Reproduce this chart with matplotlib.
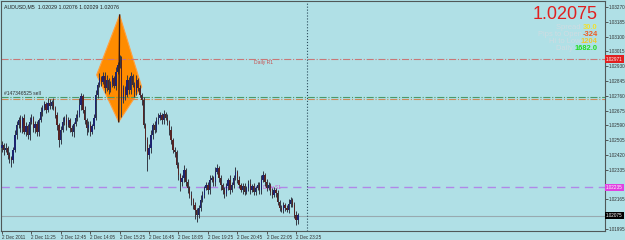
import matplotlib
matplotlib.use('Agg')
import matplotlib.pyplot as plt
from matplotlib.patches import Polygon
import matplotlib.transforms as mtransforms

plt.rcParams['font.family'] = ['Liberation Sans', 'DejaVu Sans']

# AUDUSD M5 свечи (цены закрытия), открытие = предыдущее закрытие
first_open = 1.02460
closes = [
    1.02478, 1.02449, 1.02461, 1.02420, 1.02403, 1.02392,
    1.02449, 1.02535, 1.02593,
    1.02621, 1.02575, 1.02633, 1.02552, 1.02587, 1.02535, 1.02610, 1.02633, 1.02575, 1.02598, 1.02552, 1.02621,
    1.02667, 1.02690, 1.02713, 1.02679, 1.02719, 1.02702, 1.02725, 1.02690,
    1.02650, 1.02593, 1.02506, 1.02564,
    1.02610, 1.02633, 1.02593, 1.02621, 1.02575, 1.02552, 1.02598, 1.02633, 1.02650,
    1.02707, 1.02759, 1.02679,
    1.02621, 1.02575, 1.02593, 1.02552, 1.02587, 1.02633,
    1.02765, 1.02822, 1.02862,
    1.02839, 1.02874, 1.02805, 1.02851, 1.02793, 1.02828, 1.02862, 1.02816, 1.02897, 1.02937,
    1.02966, 1.02736,
    1.02805, 1.02765, 1.02851, 1.02793, 1.02874, 1.02822, 1.02782, 1.02851, 1.02805,
    1.02765, 1.02736, 1.02593,
    1.02506, 1.02420, 1.02461,
    1.02535, 1.02593, 1.02564, 1.02621,
    1.02633, 1.02650, 1.02621, 1.02656, 1.02633, 1.02610,
    1.02564, 1.02506, 1.02449, 1.02438,
    1.02363, 1.02306, 1.02265, 1.02288,
    1.02334, 1.02265, 1.02231, 1.02191,
    1.02162, 1.02133, 1.02105, 1.02076, 1.02116,
    1.02162, 1.02191, 1.02231, 1.02248, 1.02219, 1.02277,
    1.02288, 1.02265, 1.02323, 1.02346,
    1.02288, 1.02248, 1.02219, 1.02196, 1.02242, 1.02277, 1.02219, 1.02248,
    1.02288, 1.02323, 1.02277,
    1.02248, 1.02219, 1.02242, 1.02208, 1.02231, 1.02254, 1.02219, 1.02242, 1.02208, 1.02231, 1.02248, 1.02219,
    1.02277, 1.02306, 1.02265,
    1.02231, 1.02248, 1.02208, 1.02191, 1.02219, 1.02202,
    1.02151, 1.02116, 1.02105, 1.02133, 1.02116, 1.02105,
    1.02139, 1.02162, 1.02133,
    1.02076, 1.02047, 1.02075,
]
# тени в пунктах
wick_hi = [2, 1, 3, 1, 2, 1, 2, 3, 2, 2, 3, 1, 2, 2, 1, 3, 2, 1, 2, 2,
           1, 3, 2, 2, 1, 3, 2, 1, 2, 1, 2, 1, 2, 3, 1, 2, 2, 1, 2, 1,
           2, 3, 4, 2, 1, 2, 1, 2, 2, 1, 2, 3, 2, 3, 1, 2, 2, 3, 1, 2,
           2, 1, 3, 2, 3, 2, 2, 1, 3, 2, 2, 1, 2, 3, 1, 2, 1, 2, 1, 2,
           2, 3, 1, 2, 2, 3, 2, 1, 2, 1, 2, 1, 2, 1, 2, 1, 2, 1, 2, 3,
           1, 2, 1, 2, 1, 2, 1, 2, 3, 2, 1, 2, 2, 3, 2, 1, 3, 2, 1, 2,
           1, 2, 2, 1, 3, 2, 2, 3, 1, 2, 1, 2, 2, 1, 2, 3, 1, 2, 1, 2,
           2, 3, 2, 1, 2, 2, 1, 2, 2, 1, 2, 1, 2, 2, 1, 2, 3, 2, 1, 2,
           2, 1]
wick_lo = [2, 3, 1, 2, 3, 4, 2, 1, 2, 2, 2, 3, 1, 2, 2, 3, 1, 2, 3, 2,
           2, 1, 2, 1, 2, 1, 2, 2, 1, 2, 3, 4, 2, 1, 2, 3, 1, 2, 2, 3,
           1, 2, 1, 3, 2, 2, 4, 2, 2, 1, 2, 1, 2, 1, 2, 1, 3, 2, 2, 1,
           2, 1, 2, 1, 2, 10, 2, 3, 1, 2, 2, 1, 3, 2, 2, 1, 3, 2, 6, 9,
           2, 3, 2, 2, 1, 2, 1, 2, 2, 1, 2, 3, 2, 2, 3, 2, 3, 5, 2, 2,
           2, 3, 2, 3, 2, 5, 4, 2, 2, 1, 2, 1, 2, 2, 1, 2, 2, 1, 2, 3,
           2, 2, 1, 2, 2, 1, 2, 1, 2, 2, 1, 2, 2, 1, 2, 2, 1, 2, 2, 1,
           2, 2, 1, 2, 2, 1, 2, 2, 1, 2, 2, 2, 1, 2, 2, 1, 2, 2, 1, 2,
           3, 2]

time_labels = ['2 Dec 2011', '2 Dec 11:25', '2 Dec 12:45', '2 Dec 14:05', '2 Dec 15:25',
               '2 Dec 16:45', '2 Dec 18:05', '2 Dec 19:25', '2 Dec 20:45', '2 Dec 22:05',
               '2 Dec 23:25']
price_ticks = [1.03270, 1.03185, 1.03100, 1.03015, 1.02930, 1.02845, 1.02760, 1.02675,
               1.02590, 1.02505, 1.02420, 1.02335, 1.02165, 1.01995]

# уровни
daily_r1 = 1.02971
order_tp = 1.02755
order_open = 1.02742
support = 1.02235
bid = 1.02072
marker_bar = 166

# фигура (ромб) - бары и цены
pattern_bars = [64, 76, 63.5, 51.5]
pattern_prices = [1.03224, 1.02811, 1.02611, 1.02880]

bg = '#b0e0e6'
fig = plt.figure(figsize=(6.25, 2.4), dpi=100, facecolor=bg)
ax = fig.add_axes([0.0016, 0.0375, 0.966, 0.958], facecolor=bg)

n = len(closes)
opens = [first_open] + closes[:-1]
x = list(range(n))
highs = [max(o, c) + h * 0.0001 for o, c, h in zip(opens, closes, wick_hi)]
lows = [min(o, c) - l * 0.0001 for o, c, l in zip(opens, closes, wick_lo)]

# ромб
ax.add_patch(Polygon(list(zip(pattern_bars, pattern_prices)), closed=True,
                     facecolor='#ff8c00', edgecolor='#ffa040', lw=0.8, zorder=1))
ax.plot([pattern_bars[0], pattern_bars[2]], [pattern_prices[0], pattern_prices[2]],
        color='#3a1a10', lw=1.0, zorder=4)

# линии
ax.axhline(daily_r1, color='#c87878', lw=0.8, ls='-.', zorder=2)
ax.axhline(order_tp, color='#4a9a6a', lw=0.8, ls='-.', zorder=2)
ax.axhline(order_open, color='#d08a5a', lw=0.8, ls='-.', zorder=2)
ax.axhline(support, color='#b088e8', lw=1.0, ls=(0, (6, 4)), zorder=2)
ax.axhline(bid, color='#98aab0', lw=0.8, zorder=2)
ax.axvline(marker_bar, color='#2a4a5a', lw=0.8, ls=':', zorder=2)

# свечи
col = ['#1c2470' if c >= o else '#552424' for o, c in zip(opens, closes)]
ax.vlines(x, lows, highs, color='#333844', lw=0.7, zorder=3)
bottoms = [min(o, c) for o, c in zip(opens, closes)]
heights = [max(abs(c - o), 0.00002) for o, c in zip(opens, closes)]
ax.bar(x, heights, bottom=bottoms, width=0.7, color=col, lw=0, zorder=3)

ax.text(137, daily_r1 - 0.00004, 'Daily R1', fontsize=3.6, color='#c85050', va='top', zorder=5)
ax.text(142, support - 0.00003, 'Daily S1', fontsize=3.4, color='#d050d0', va='center', zorder=2)
ax.text(1, order_tp + 0.00005, '#147346525 sell', fontsize=3.6, color='#303030', va='bottom', zorder=5)

ax.set_xlim(-0.54, 327.9)
ax.set_ylim(1.01984, 1.03304)

ax.set_xticks(range(0, 161, 16))
ax.set_xticklabels(time_labels, ha='left', fontsize=3.3, color='#303030')
ax.yaxis.tick_right()
ax.set_yticks(price_ticks)
ax.set_yticklabels([f'{p:.5f}' for p in price_ticks], fontsize=3.3, color='#303030')
ax.tick_params(axis='both', length=2, width=0.6, color='#404040', pad=1)
for s in ax.spines.values():
    s.set_color('#505858')
    s.set_linewidth(0.8)

# метки цен на оси
trans = mtransforms.blended_transform_factory(ax.transAxes, ax.transData)
for lvl, fc in [(daily_r1, '#e02020'), (support, '#e040e0'), (1.02075, '#000000')]:
    ax.text(1.002, lvl, f'{lvl:.5f}', transform=trans, fontsize=3.3, color='white',
            va='center', ha='left', clip_on=False, zorder=10,
            bbox=dict(facecolor=fc, edgecolor='none', pad=0.8))

# заголовок
ax.text(0.005, 0.985, 'AUDUSD,M5  1.02029 1.02076 1.02029 1.02076', transform=ax.transAxes,
        fontsize=3.8, color='#202020', va='top')

# инфо-панель
ax.text(0.988, 0.94, '1.02075', transform=ax.transAxes, fontsize=13, color='#e02020',
        ha='right', va='center')
rows = [('Spread ', '30.0', '#f0e030', 0.886),
        ('Pips to Open', '-324', '#f05a20', 0.854),
        ('Hi to Low', '1204', '#f0c830', 0.823),
        ('Daily ', '1682.0', '#22dd22', 0.792)]
for lab, val, vc, yy in rows:
    t = ax.text(0.988, yy, val, transform=ax.transAxes, fontsize=5.4, color=vc,
                ha='right', va='center', fontweight='bold')
    ax.annotate(lab, xy=(0, 0.5), xycoords=t, fontsize=5.4, color='#cfdce2',
                ha='right', va='center')

fig.savefig('out.png', dpi=100, facecolor=bg)
